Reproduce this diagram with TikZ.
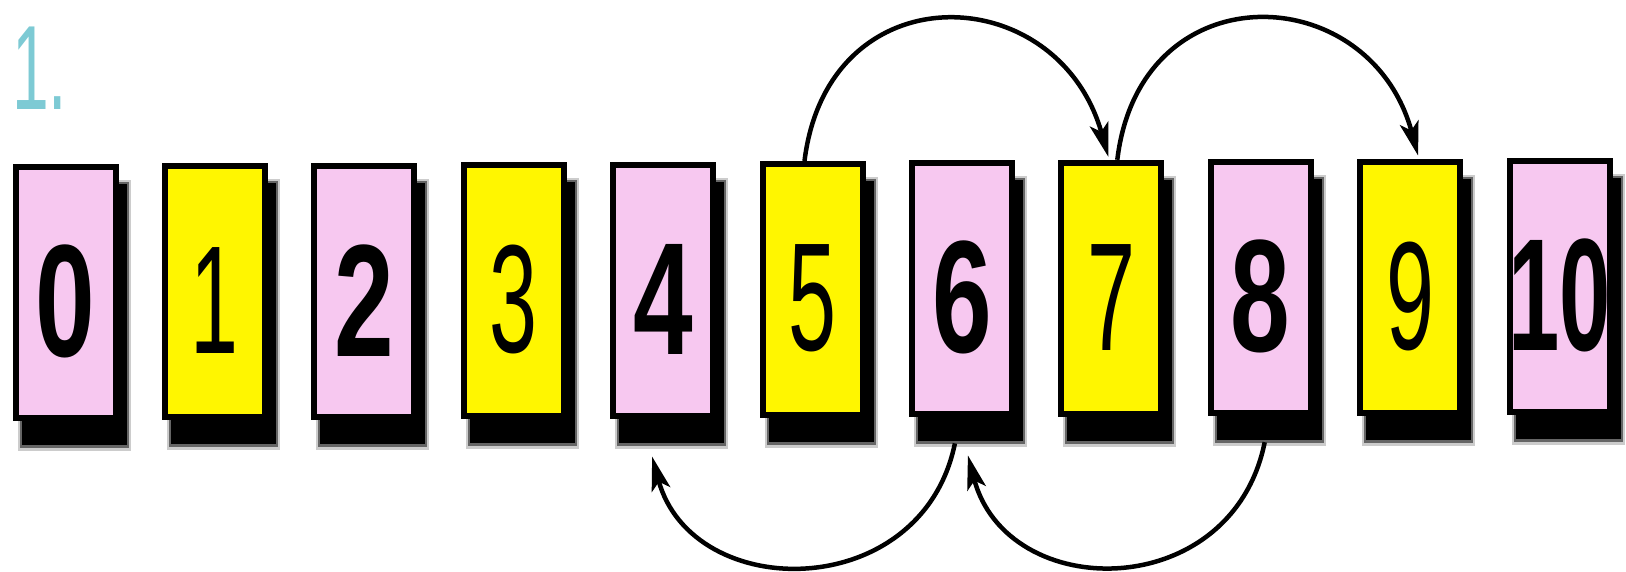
\documentclass[tikz,border=0pt]{standalone}
\usepackage{fontspec}
\setmainfont{Liberation Sans}
\usetikzlibrary{arrows.meta}
\definecolor{boxpink}{RGB}{247,200,240}
\definecolor{boxyellow}{RGB}{255,246,0}
\definecolor{labelteal}{RGB}{125,202,212}
\tikzset{
  numbox/.style={draw=black, line width=6pt, minimum width=100pt, minimum height=251pt, inner sep=0pt},
  jumparc/.style={line width=4.5pt, -{Stealth[length=34pt,width=19pt,inset=8pt]}},
}
\newcommand{\boldnum}[1]{\fontsize{160}{160}\selectfont\bfseries\scalebox{0.67}[1]{#1}}
\newcommand{\thinnum}[1]{\fontsize{154}{154}\selectfont\scalebox{0.56}[1]{#1}}
\begin{document}
\begin{tikzpicture}[x=1pt,y=-1pt]
\useasboundingbox (0,0) rectangle (1626,572);
\fill[white] (0,0) rectangle (1626,572);
\node[anchor=base west, text=labelteal, inner sep=0pt, font=\fontsize{120}{120}\selectfont] (lbl) at (12,110) {\scalebox{0.55}[1]{1.}};
\foreach \i/\c/\t in {0/boxpink/\boldnum{0},1/boxyellow/\thinnum{1},2/boxpink/\boldnum{2},3/boxyellow/\thinnum{3},4/boxpink/\boldnum{4},5/boxyellow/\thinnum{5},6/boxpink/\boldnum{6},7/boxyellow/\thinnum{7},8/boxpink/\boldnum{8},9/boxyellow/\thinnum{9},10/boxpink/\boldnum{\scalebox{0.86}[1]{10}}}{
  \pgfmathsetmacro{\cx}{65.5+149.4*\i}
  \pgfmathsetmacro{\cy}{292.5-0.6*\i}
  \fill[black, opacity=0.2] (\cx-53+5,\cy-128.5+16) rectangle (\cx+53+12,\cy+128.5+30);
  \fill[black, opacity=0.5] (\cx-53+7,\cy-128.5+18) rectangle (\cx+53+10,\cy+128.5+27);
  \fill[black] (\cx-53+9,\cy-128.5+20) rectangle (\cx+53+8,\cy+128.5+24);
  \node[numbox, fill=\c] (b\i) at (\cx,\cy) {};
  \node (n\i) at (\cx,\cy+9) {\t};
}
\draw[jumparc] ([xshift=-8pt]b5.north) .. controls (828,-30) and (1058,-22) .. ([xshift=-3pt,yshift=3pt]b7.north);
\draw[jumparc] ([xshift=6pt]b7.north) .. controls (1140,-30) and (1370,-22) .. ([xshift=8pt,yshift=3pt]b9.north);
\draw[jumparc] ([xshift=-7pt,yshift=-26pt]b6.south) .. controls (922,604) and (692,604) .. ([xshift=-11pt,yshift=-38pt]b4.south);
\draw[jumparc] ([xshift=4pt,yshift=-26pt]b8.south) .. controls (1232,604) and (1007,604) .. ([xshift=6pt,yshift=-38pt]b6.south);
\end{tikzpicture}
\end{document}
